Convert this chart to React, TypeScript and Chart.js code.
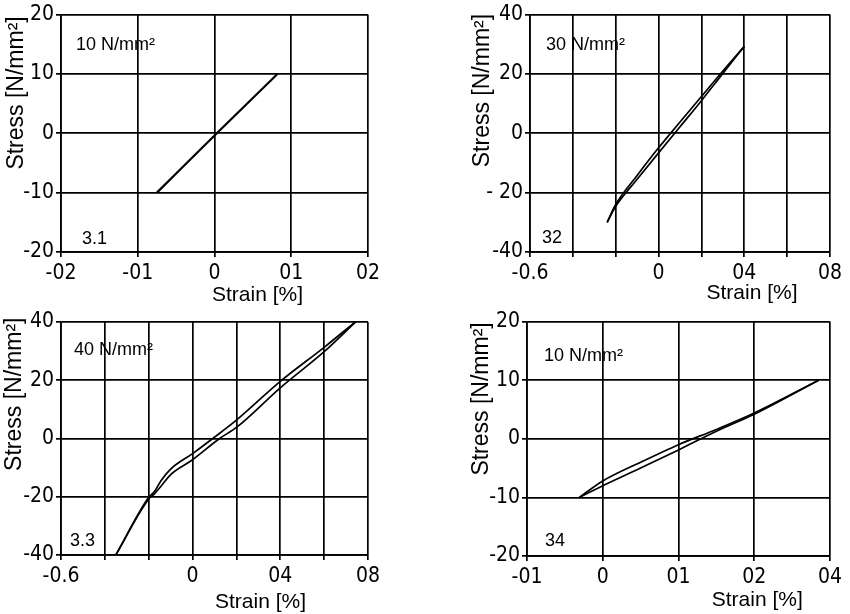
import React, { useEffect, useRef } from 'react';
import { Chart, registerables } from 'chart.js';
Chart.register(...registerables);

// ---------- Data ----------
// Panel 3.1 (10 N/mm2)
const p1X = [-0.075, 0.003, 0.082];
const p1Y = [-10, 0, 10];

// Panel 32 (30 N/mm2): two branches of the loop
const p2UpX = [-0.24, -0.2, -0.1, 0, 0.1, 0.2, 0.3, 0.4];
const p2UpY = [-30, -24, -14.2, -4.9, 3.8, 12.4, 21, 29.3];
const p2LoX = [-0.24, -0.2, -0.1, 0, 0.1, 0.2, 0.3, 0.4];
const p2LoY = [-30, -24.6, -15.5, -6.6, 2.2, 11, 20.2, 29.3];

// Panel 3.3 (40 N/mm2)
const p3UpX = [-0.35, -0.2, -0.174, -0.144, -0.1, 0, 0.092, 0.2, 0.4, 0.6, 0.75];
const p3UpY = [-40, -20.2, -18.2, -14.5, -10.5, -5.2, 0, 6.3, 19.6, 31.3, 40.5];
const p3LoX = [-0.35, -0.2, -0.174, -0.144, -0.1, 0, 0.123, 0.2, 0.4, 0.6, 0.75];
const p3LoY = [-40, -20.8, -19, -16.4, -12.4, -7.3, 0, 3.8, 17.4, 29.8, 40.5];

// Panel 34 (10 N/mm2)
const p4UpX = [-0.031, 0, 0.05, 0.1, 0.15, 0.2, 0.285];
const p4UpY = [-10, -7.2, -4.0, -1.0, 1.6, 4.4, 10];
const p4LoX = [-0.031, 0, 0.05, 0.1, 0.15, 0.2, 0.285];
const p4LoY = [-10, -8.0, -5.0, -1.9, 1.3, 4.2, 10];

// Tick values and labels (as printed)
const p1XTicks = [-0.2, -0.1, 0, 0.1, 0.2];
const p1XLabels = ['-02', '-01', '0', '01', '02'];
const p1YTicks = [-20, -10, 0, 10, 20];
const p1YLabels = ['-20', '-10', '0', '10', '20'];

const p2XTicks = [-0.6, -0.4, -0.2, 0, 0.2, 0.4, 0.6, 0.8];
const p2XLabels = ['-0.6', '', '', '0', '', '04', '', '08'];
const p2YTicks = [-40, -20, 0, 20, 40];
const p2YLabels = ['-40', '- 20', '0', '20', '40'];

const p3XTicks = [-0.6, -0.4, -0.2, 0, 0.2, 0.4, 0.6, 0.8];
const p3XLabels = ['-0.6', '', '', '0', '', '04', '', '08'];
const p3YTicks = [-40, -20, 0, 20, 40];
const p3YLabels = ['-40', '-20', '0', '20', '40'];

const p4XTicks = [-0.1, 0, 0.1, 0.2, 0.3];
const p4XLabels = ['-01', '0', '01', '02', '04'];
const p4YTicks = [-20, -10, 0, 10, 20];
const p4YLabels = ['-20', '-10', '0', '10', '20'];

const loadLabels = ['10 N/mm²', '30 N/mm²', '40 N/mm²', '10 N/mm²'];
const panelIds = ['3.1', '32', '3.3', '34'];
const xTitle = 'Strain [%]';
const yTitle = 'Stress [N/mm²]';

const NARROW = "'Liberation Sans Narrow', 'DejaVu Sans Condensed', sans-serif";
const SANS = "'Liberation Sans', 'DejaVu Sans', sans-serif";

const W = 425;
const H = 307;

const pts = (xs: number[], ys: number[]) => xs.map((x, i) => ({ x, y: ys[i] }));

const panels = [
  {
    left: 0, top: 0, area: { l: 61, r: 368, t: 14, b: 252 },
    xMin: -0.2, xMax: 0.2, yMin: -20, yMax: 20,
    xTicks: p1XTicks, xLabels: p1XLabels, yTicks: p1YTicks, yLabels: p1YLabels,
    series: [pts(p1X, p1Y)],
    load: loadLabels[0], id: panelIds[0],
    loadDx: 15, loadDy: 30, idDx: 21, idDy: 13, xtFrac: 0.64, xtDy: 43, ytDx: 44, ytFrac: 0.33,
  },
  {
    left: 425, top: 0, area: { l: 105, r: 405, t: 14, b: 252 },
    xMin: -0.6, xMax: 0.8, yMin: -40, yMax: 40,
    xTicks: p2XTicks, xLabels: p2XLabels, yTicks: p2YTicks, yLabels: p2YLabels,
    series: [pts(p2UpX, p2UpY), pts(p2LoX, p2LoY)],
    load: loadLabels[1], id: panelIds[1],
    loadDx: 16, loadDy: 30, idDx: 12, idDy: 14, xtFrac: 0.74, xtDy: 41, ytDx: 47, ytFrac: 0.32,
  },
  {
    left: 0, top: 307, area: { l: 61, r: 368, t: 15, b: 248 },
    xMin: -0.6, xMax: 0.8, yMin: -40, yMax: 40,
    xTicks: p3XTicks, xLabels: p3XLabels, yTicks: p3YTicks, yLabels: p3YLabels,
    series: [pts(p3UpX, p3UpY), pts(p3LoX, p3LoY)],
    load: loadLabels[2], id: panelIds[2],
    loadDx: 13, loadDy: 28, idDx: 9, idDy: 14, xtFrac: 0.65, xtDy: 47, ytDx: 46, ytFrac: 0.31,
  },
  {
    left: 425, top: 307, area: { l: 102, r: 405, t: 14, b: 249 },
    xMin: -0.1, xMax: 0.3, yMin: -20, yMax: 20,
    xTicks: p4XTicks, xLabels: p4XLabels, yTicks: p4YTicks, yLabels: p4YLabels,
    series: [pts(p4UpX, p4UpY), pts(p4LoX, p4LoY)],
    load: loadLabels[3], id: panelIds[3],
    loadDx: 17, loadDy: 34, idDx: 18, idDy: 15, xtFrac: 0.76, xtDy: 44, ytDx: 45, ytFrac: 0.33,
  },
];

function Panel({ spec }: { spec: any }) {
  const ref = useRef<HTMLCanvasElement>(null);
  useEffect(() => {
    if (!ref.current) return;
    const a = spec.area;
    const textPlugin = {
      id: 'panelText',
      afterDraw(chart: any) {
        const { ctx, chartArea: c } = chart;
        ctx.save();
        ctx.fillStyle = '#000';
        ctx.textBaseline = 'middle';
        ctx.textAlign = 'left';
        ctx.font = `18px ${SANS}`;
        ctx.fillText(spec.load, c.left + spec.loadDx, c.top + spec.loadDy);
        ctx.fillText(spec.id, c.left + spec.idDx, c.bottom - spec.idDy);
        ctx.textAlign = 'center';
        ctx.font = `21px ${SANS}`;
        ctx.fillText(xTitle, c.left + spec.xtFrac * (c.right - c.left), c.bottom + spec.xtDy);
        ctx.translate(c.left - spec.ytDx, c.top + spec.ytFrac * (c.bottom - c.top));
        ctx.rotate(-Math.PI / 2);
        ctx.font = `23px ${SANS}`;
        ctx.fillText(yTitle, 0, 0);
        ctx.restore();
      },
    };
    const gridCommon = { color: '#000', lineWidth: 1.7, tickLength: 5, tickColor: '#000', tickWidth: 1.7 };
    const chart = new Chart(ref.current, {
      type: 'scatter',
      data: {
        datasets: spec.series.map((d: any) => ({
          data: d,
          showLine: true,
          borderColor: '#000',
          borderWidth: spec.series.length > 1 ? 1.7 : 2.2,
          pointRadius: 0,
          cubicInterpolationMode: 'monotone',
        })),
      },
      options: {
        animation: false,
        responsive: false,
        devicePixelRatio: 1,
        layout: { padding: { left: 0, top: a.t, right: W - a.r, bottom: 0 } },
        plugins: { legend: { display: false }, tooltip: { enabled: false } },
        scales: {
          x: {
            type: 'linear',
            min: spec.xMin,
            max: spec.xMax,
            afterBuildTicks: (s: any) => { s.ticks = spec.xTicks.map((v: number) => ({ value: v })); },
            afterFit: (s: any) => { s.height = H - a.b; },
            ticks: {
              autoSkip: false,
              maxRotation: 0,
              padding: 4,
              color: '#000',
              font: { family: NARROW, size: 21 },
              callback: (_v: any, i: number) => spec.xLabels[i],
            },
            grid: gridCommon,
            border: { color: '#000', width: 1.7 },
          },
          y: {
            type: 'linear',
            min: spec.yMin,
            max: spec.yMax,
            afterBuildTicks: (s: any) => { s.ticks = spec.yTicks.map((v: number) => ({ value: v })); },
            afterFit: (s: any) => { s.width = a.l; },
            ticks: {
              autoSkip: false,
              padding: 2,
              color: '#000',
              font: { family: NARROW, size: 21 },
              callback: (_v: any, i: number) => spec.yLabels[i],
            },
            grid: gridCommon,
            border: { color: '#000', width: 1.7 },
          },
        },
      },
      plugins: [textPlugin],
    } as any);
    return () => chart.destroy();
  }, []);
  return (
    <canvas
      ref={ref}
      width={W}
      height={H}
      style={{ position: 'absolute', left: spec.left, top: spec.top, width: W, height: H }}
    />
  );
}

export default function App() {
  return (
    <div style={{ position: 'absolute', left: 0, top: 0, width: 850, height: 614, background: '#fff' }}>
      {panels.map((p, i) => (
        <Panel key={i} spec={p} />
      ))}
    </div>
  );
}
